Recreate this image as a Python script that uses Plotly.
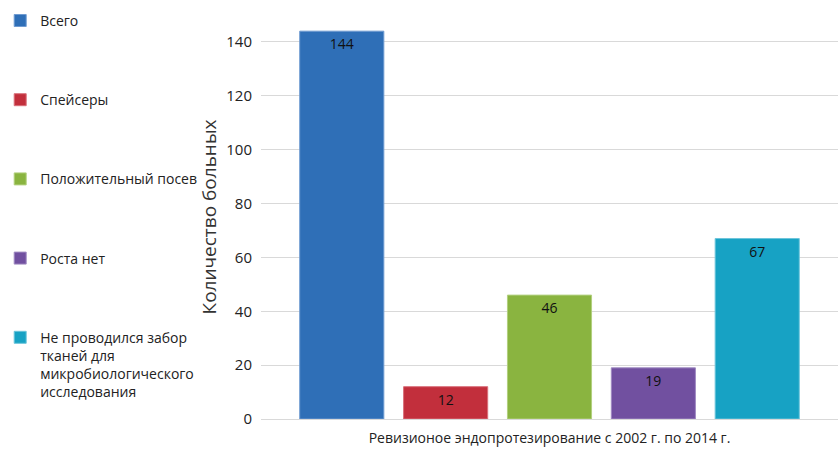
import plotly.graph_objects as go

category = ["Ревизионое эндопротезирование с 2002 г. по 2014 г."]
series_names = ["Всего", "Спейсеры", "Положительный посев", "Роста нет",
                "Не проводился забор<br>тканей для<br>микробиологического<br>исследования"]
values = [144, 12, 46, 19, 67]
colors = ["#2F6FB7", "#C22F3C", "#8AB440", "#7150A0", "#17A2C4"]
line_colors = ["#6F9BD1", "#D9707A", "#B2D07E", "#A08BC2", "#6CC5DB"]
y_ticks = [0, 20, 40, 60, 80, 100, 120, 140]

font_family = "Open Sans, Liberation Sans, sans-serif"

fig = go.Figure()
for i, (name, v) in enumerate(zip(series_names, values)):
    fig.add_trace(go.Bar(
        x=category, y=[v], name=name, legendgroup=f"g{i}",
        marker=dict(color=colors[i], line=dict(color=line_colors[i], width=1)),
        text=[str(v)], textposition="inside", insidetextanchor="end",
        textfont=dict(color="#111111", size=14, family=font_family),
        hoverinfo="skip",
    ))

fig.update_layout(
    width=838, height=450,
    margin=dict(l=258, r=0, t=15, b=31),
    paper_bgcolor="white", plot_bgcolor="white",
    barmode="group", bargap=0.1, bargroupgap=0.19,
    font=dict(family=font_family, size=14, color="#222222"),
    showlegend=True,
    legend=dict(
        x=-0.452, xanchor="left", y=1.025, yanchor="top",
        tracegroupgap=58, valign="top",
        font=dict(size=14, color="#222222"),
        itemwidth=30, maxheight=448,
    ),
    yaxis=dict(
        range=[0, 150], tickvals=y_ticks, showgrid=True, gridcolor="#D9D9D9",
        gridwidth=1, zeroline=False, showline=False, ticks="",
        tickfont=dict(size=15, color="#222222"), ticklabelstandoff=8,
        title=dict(text="Количество больных", font=dict(size=19, color="#333333"), standoff=4),
    ),
    xaxis=dict(
        showline=True, linecolor="#D9D9D9", linewidth=1, ticks="",
        tickfont=dict(size=14, color="#222222"), ticklabelstandoff=6,
    ),
)
fig.update_traces(textangle=0, cliponaxis=False)

fig.write_html("out.html")
